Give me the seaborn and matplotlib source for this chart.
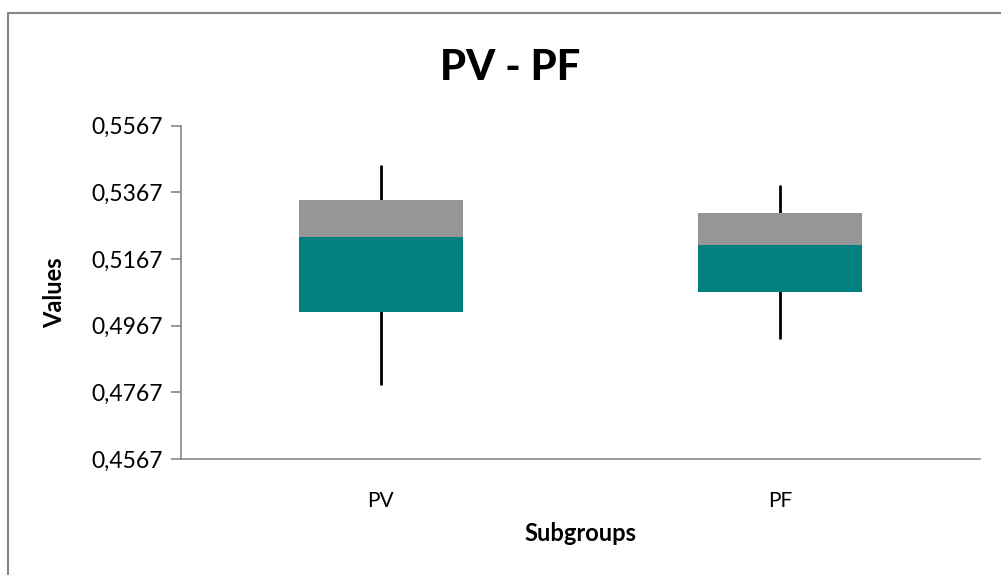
import pandas as pd
import seaborn as sns
import matplotlib.pyplot as plt
from matplotlib.lines import Line2D

# box plot summary
groups = ["PV", "PF"]
q1 = [0.5008, 0.5068]
median = [0.5233, 0.5209]
q3 = [0.5344, 0.5305]
mins = [0.4789, 0.4927]
maxs = [0.5449, 0.5389]
yticks = [0.4567, 0.4767, 0.4967, 0.5167, 0.5367, 0.5567]

df = pd.DataFrame({"Subgroup": groups, "q1": q1, "median": median, "q3": q3,
                   "min": mins, "max": maxs})
df["lower"] = df["median"] - df["q1"]
df["upper"] = df["q3"] - df["median"]

sns.set_style("white")
plt.rcParams['font.family'] = ['Lato', 'DejaVu Sans']
plt.rcParams['text.color'] = 'black'
plt.rcParams['axes.labelcolor'] = 'black'
plt.rcParams['xtick.labelcolor'] = 'black'
plt.rcParams['ytick.labelcolor'] = 'black'

fig = plt.figure(figsize=(10.01, 5.75), dpi=100)
ax = fig.add_axes([0.1808, 0.2017, 0.7982, 0.58])

# whiskers behind the boxes
ax.vlines(range(len(groups)), df["min"], df["max"], color="black", lw=2, zorder=1)

sns.barplot(data=df, x="Subgroup", y="lower", bottom=df["q1"], color="#008080",
            saturation=1, width=0.41, ax=ax, zorder=2, linewidth=0)
sns.barplot(data=df, x="Subgroup", y="upper", bottom=df["median"], color="#969696",
            saturation=1, width=0.41, ax=ax, zorder=2, linewidth=0)

ax.set_ylim(yticks[0], yticks[-1])
ax.set_xlim(-0.5, 1.5)
ax.set_yticks(yticks)
ax.set_yticklabels([f"{v:.4f}".replace(".", ",") for v in yticks], fontsize=16.5)
ax.set_xticks(range(len(groups)))
ax.set_xticklabels(groups, fontsize=15)
ax.set_xticks([-0.5, 0.5, 1.5], minor=True)
ax.tick_params(axis="x", which="major", length=0, pad=23)
ax.tick_params(axis="x", which="minor", length=7, color="#868686", width=1.2)
ax.tick_params(axis="y", length=7, color="#868686", width=1.2, pad=6, left=True)

for s in ["top", "right"]:
    ax.spines[s].set_visible(False)
for s in ["left", "bottom"]:
    ax.spines[s].set_color("#868686")
    ax.spines[s].set_linewidth(1.2)

ax.set_xlabel("Subgroups", fontsize=17, fontweight="bold")
ax.set_ylabel("Values", fontsize=17, fontweight="bold")
ax.xaxis.set_label_coords(0.5, -0.19)
ax.yaxis.set_label_coords(-0.144, 0.5)
fig.text(0.51, 0.882, "PV - PF", ha="center", va="center", fontsize=30, fontweight="black")

# chart area border
fig.add_artist(Line2D([8 / 1001, 8 / 1001], [1 - 13 / 575, 0], color="#868686", lw=1.5))
fig.add_artist(Line2D([8 / 1001, 1], [1 - 13 / 575, 1 - 13 / 575], color="#868686", lw=1.5))

fig.savefig("out.png", dpi=100)
